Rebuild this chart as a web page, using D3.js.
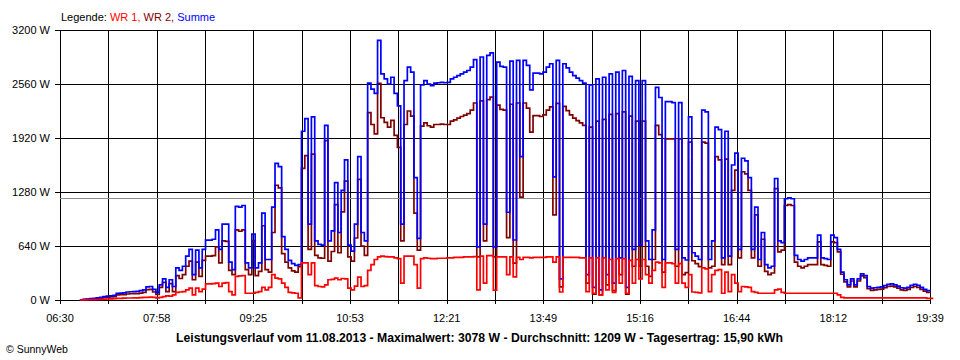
<!DOCTYPE html>
<html><head><meta charset="utf-8">
<script src="https://cdn.jsdelivr.net/npm/d3@7"></script>
<style>body{margin:0;background:#fff} svg{display:block}</style>
</head><body>
<svg id="c" width="960" height="360"></svg>
<script>
// ---- data (sampled every 3 minutes starting 06:48) ----
const startTime = "06:48";
const stepMinutes = 3;
const wr1 = [0,2,3,4,5,6,8,10,12,14,16,20,20,22,24,24,25,26,28,30,32,34,30,25,30,40,50,45,60,90,95,100,120,140,60,140,100,130,190,190,195,200,160,200,205,100,60,280,285,290,80,80,80,90,100,150,120,150,300,260,250,200,150,90,85,80,25,440,440,300,440,170,160,155,180,240,245,260,240,255,250,140,120,165,270,160,170,350,420,480,510,520,515,510,510,500,490,200,520,520,520,420,140,490,500,495,490,490,495,495,495,500,500,505,505,505,510,510,510,515,120,520,200,525,525,118,510,510,510,300,510,275,505,480,505,505,500,505,505,505,505,510,510,450,510,95,505,505,505,505,505,500,500,100,500,80,500,60,500,120,480,90,490,200,490,80,470,200,480,250,480,300,200,350,450,440,150,440,440,430,200,430,200,150,300,95,90,85,380,370,100,300,350,360,80,330,100,300,200,100,160,155,150,100,90,80,80,80,80,80,120,130,90,80,80,80,80,80,80,80,80,80,80,80,80,80,80,80,80,60,30,25,25,25,25,25,25,25,25,25,25,25,25,25,25,25,25,25,25,25,25,25,25,25,25,25,20,20,20];
const wr2 = [0,6,9,14,15,19,22,30,33,36,39,60,62,63,71,74,75,76,82,90,123,126,95,65,150,210,100,195,100,290,255,300,400,460,240,450,280,470,520,520,525,630,440,700,695,350,300,830,815,830,360,300,700,290,340,880,360,330,800,1360,1330,550,450,380,345,330,395,1560,1710,600,1730,530,500,495,1890,460,575,1130,560,1045,1410,510,460,735,1430,640,530,2220,2080,1970,2568,2160,2105,2050,2130,1950,1810,700,2080,2240,2180,1030,590,2060,2100,2065,2050,2080,2080,2085,2080,2080,2120,2135,2155,2175,2190,2210,2250,2335,510,2360,700,2375,2405,512,2310,2260,2250,740,2320,436,2335,1220,2335,2275,1990,2185,2185,2175,2195,2250,2290,1010,2330,155,2295,2245,2195,2155,2125,2100,2070,200,2050,70,2120,60,2140,180,2200,110,2210,300,2230,70,2180,400,2120,400,2120,400,280,480,2070,1960,330,1910,1910,1910,400,1910,300,324,1870,465,430,395,1870,1860,380,400,1700,1660,420,1670,420,1300,1540,500,1520,1495,1300,500,1010,400,720,340,300,320,1320,570,590,1120,1130,1120,450,400,380,400,420,420,420,690,420,410,400,690,680,570,305,215,155,225,155,225,285,265,135,115,120,125,130,145,160,165,155,140,120,115,125,150,160,150,125,105,90,85];
const summe = [0,8,12,18,20,25,30,40,45,50,55,80,82,85,95,98,100,102,110,120,155,160,125,90,180,250,150,240,160,380,350,400,520,600,300,590,380,600,710,710,720,830,600,900,900,450,360,1110,1100,1120,440,380,780,380,440,1030,480,480,1100,1620,1580,750,600,470,430,410,420,2000,2150,900,2170,700,660,650,2070,700,820,1390,800,1300,1660,650,580,900,1700,800,700,2570,2500,2450,3078,2680,2620,2560,2640,2450,2300,900,2600,2760,2700,1450,730,2550,2600,2560,2540,2570,2575,2580,2575,2580,2620,2640,2660,2680,2700,2720,2760,2850,630,2880,900,2900,2930,630,2820,2770,2760,1040,2830,711,2840,1700,2840,2780,2490,2690,2690,2680,2700,2760,2800,1460,2840,250,2800,2750,2700,2660,2630,2600,2570,300,2550,150,2620,120,2640,300,2680,200,2700,500,2720,150,2650,600,2600,650,2600,700,480,830,2520,2400,480,2350,2350,2340,600,2340,500,474,2170,560,520,480,2250,2230,480,700,2050,2020,500,2000,520,1600,1740,600,1680,1650,1450,600,1100,480,800,420,380,400,1440,700,680,1200,1210,1200,530,480,460,480,500,500,500,770,500,490,480,770,740,600,330,240,180,250,180,250,310,290,160,140,145,150,155,170,185,190,180,165,145,140,150,175,185,175,150,125,110,105];

const yTicks = [0, 640, 1280, 1920, 2560, 3200];
const xTickLabels = ["06:30","07:58","09:25","10:53","12:21","13:49","15:16","16:44","18:12","19:39"];
const dayStart = "06:30", dayEnd = "19:39";
const average = 1209;
const legendItems = [{name:"WR 1", color:"#ff0000"},{name:"WR 2", color:"#800000"},{name:"Summe", color:"#0000ff"}];
const titleText = "Leistungsverlauf vom 11.08.2013 - Maximalwert: 3078 W - Durchschnitt: 1209 W - Tagesertrag: 15,90 kWh";
const copyright = "\u00A9 SunnyWeb";

// ---- drawing ----
const toMin = s => { const [h,m] = s.split(":").map(Number); return h*60+m; };
const svg = d3.select("#c");
const font = "'Liberation Sans', Arial, sans-serif";
const L = 60, R = 930, T = 30, B = 300;
const x = d3.scaleLinear().domain([toMin(dayStart), toMin(dayEnd)]).range([L, R]);
const y = d3.scaleLinear().domain([0, 3200]).range([B, T]);

const nGrid = (xTickLabels.length - 1) * 2;
const gridTimes = d3.range(nGrid + 1).map(k => toMin(dayStart) + k * (toMin(dayEnd) - toMin(dayStart)) / nGrid);
const px = v => Math.round(v) + 0.5;

const grid = svg.append("g").attr("stroke", "#000").attr("stroke-width", 1).attr("shape-rendering", "crispEdges");
gridTimes.forEach(t => {
  grid.append("line").attr("x1", px(x(t))).attr("x2", px(x(t))).attr("y1", T).attr("y2", B + 4);
});
yTicks.forEach(v => {
  grid.append("line").attr("x1", L - 5).attr("x2", R).attr("y1", px(y(v))).attr("y2", px(y(v)));
});

// average line
svg.append("line").attr("x1", L).attr("x2", R).attr("y1", px(y(average))).attr("y2", px(y(average)))
  .attr("stroke", "#8c8c8c").attr("stroke-width", 1).attr("shape-rendering", "crispEdges");

// axis labels
svg.append("g").selectAll("text").data(yTicks).join("text")
  .attr("x", 50).attr("y", d => y(d) + 4).attr("text-anchor", "end")
  .attr("font-family", font).attr("font-size", 11).attr("fill", "#000")
  .text(d => d + " W");
svg.append("g").selectAll("text").data(xTickLabels).join("text")
  .attr("x", (d, i) => x(gridTimes[i * 2])).attr("y", 322).attr("text-anchor", "middle")
  .attr("font-family", font).attr("font-size", 11).attr("fill", "#000")
  .text(d => d);

// series
const t0 = toMin(startTime);
const mk = arr => arr.map((v, i) => ({t: t0 + i * stepMinutes, v}));
const line = d3.line().x(d => x(d.t)).y(d => y(d.v)).curve(d3.curveStepAfter);
const series = [
  {data: mk(wr2), color: "#800000"},
  {data: mk(summe), color: "#0000ff"},
  {data: mk(wr1), color: "#ff0000"}
];
series.forEach(s => {
  svg.append("path").datum(s.data).attr("d", line)
    .attr("fill", "none").attr("stroke", s.color).attr("stroke-width", 1.7);
});

// legend
const lg = svg.append("text").attr("x", 61).attr("y", 20.5).attr("font-family", font).attr("font-size", 11);
lg.append("tspan").attr("fill", "#000").text("Legende: ");
legendItems.forEach((it, i) => {
  lg.append("tspan").attr("fill", it.color).text(it.name + (i < legendItems.length - 1 ? ", " : ""));
});

// title
svg.append("text").attr("x", 479.5).attr("y", 341.5).attr("text-anchor", "middle")
  .attr("font-family", font).attr("font-size", 12.5).attr("font-weight", "bold")
  .attr("textLength", 607).attr("lengthAdjust", "spacingAndGlyphs")
  .text(titleText);

svg.append("text").attr("x", 6).attr("y", 353).attr("font-family", font).attr("font-size", 10.5)
  .text(copyright);
</script>
</body></html>
